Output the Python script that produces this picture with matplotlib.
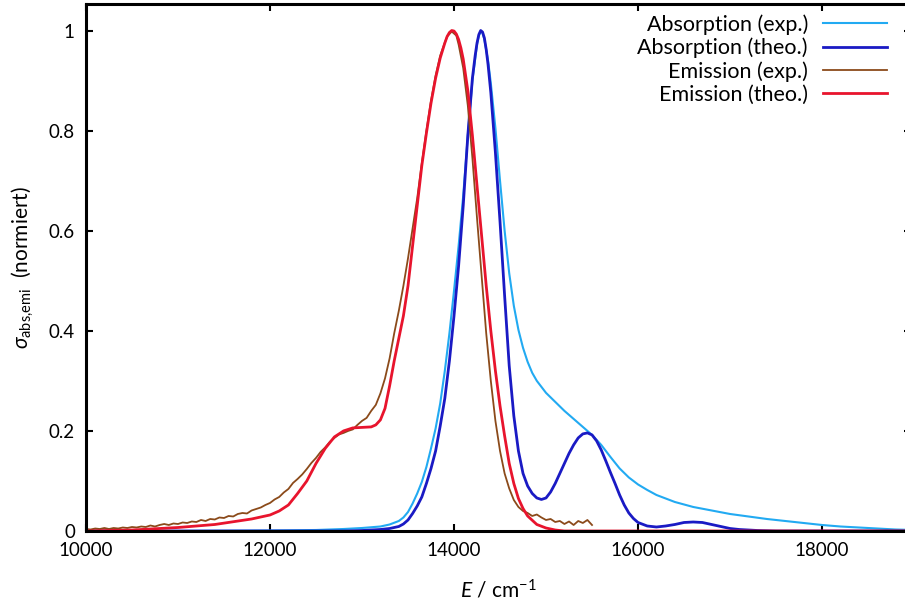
import matplotlib
matplotlib.use("Agg")
import matplotlib.pyplot as plt

plt.rcParams['font.family'] = ['Lato', 'DejaVu Sans']
plt.rcParams['mathtext.fontset'] = 'custom'
plt.rcParams['mathtext.rm'] = 'Lato'
plt.rcParams['mathtext.it'] = 'Lato:italic'

# Absorption (exp.)
abs_exp_x = [10000, 11000, 12000, 12500, 12800, 13000, 13200, 13300, 13400, 13450, 13500,
             13550, 13600, 13650, 13700, 13750, 13800, 13850, 13900, 13950, 14000, 14050,
             14100, 14150, 14200, 14250, 14270, 14290, 14310, 14330, 14370, 14400, 14450,
             14500, 14550, 14600, 14650, 14700, 14750, 14800, 14850, 14900, 15000, 15100,
             15200, 15300, 15400, 15500, 15600, 15700, 15800, 15900, 16000, 16100, 16200,
             16400, 16600, 16800, 17000, 17200, 17400, 17600, 17800, 18000, 18200, 18400,
             18600, 18800, 19000]
abs_exp_y = [0.0, 0.0, 0.001, 0.002, 0.004, 0.006, 0.009, 0.013, 0.020, 0.027, 0.038,
             0.055, 0.075, 0.098, 0.128, 0.165, 0.205, 0.255, 0.320, 0.395, 0.480, 0.570,
             0.670, 0.790, 0.900, 0.972, 0.990, 0.998, 0.995, 0.982, 0.940, 0.895, 0.805,
             0.700, 0.600, 0.515, 0.450, 0.402, 0.366, 0.338, 0.316, 0.300, 0.276, 0.258,
             0.240, 0.224, 0.208, 0.192, 0.172, 0.148, 0.125, 0.107, 0.093, 0.082, 0.072,
             0.058, 0.048, 0.041, 0.034, 0.029, 0.024, 0.020, 0.016, 0.012, 0.009, 0.007,
             0.005, 0.003, 0.002]

# Absorption (theo.)
abs_theo_x = [10000, 12800, 13000, 13200, 13300, 13400, 13450, 13500, 13550, 13600, 13650,
              13700, 13750, 13800, 13850, 13900, 13950, 14000, 14050, 14100, 14150, 14200,
              14230, 14250, 14270, 14290, 14310, 14330, 14350, 14370, 14400, 14450, 14500,
              14550, 14600, 14650, 14700, 14750, 14800, 14850, 14900, 14950, 15000, 15050,
              15100, 15150, 15200, 15250, 15300, 15350, 15400, 15450, 15500, 15550, 15600,
              15650, 15700, 15750, 15800, 15850, 15900, 15950, 16000, 16100, 16200, 16300,
              16400, 16500, 16600, 16700, 16800, 16900, 17000, 17100, 17300, 17500, 19000]
abs_theo_y = [0.0, 0.0, 0.001, 0.003, 0.005, 0.009, 0.014, 0.022, 0.035, 0.050, 0.068,
              0.095, 0.125, 0.160, 0.210, 0.265, 0.340, 0.430, 0.530, 0.650, 0.790, 0.905,
              0.950, 0.975, 0.992, 1.000, 0.997, 0.985, 0.962, 0.932, 0.876, 0.756, 0.618,
              0.470, 0.330, 0.230, 0.160, 0.115, 0.090, 0.075, 0.066, 0.063, 0.066, 0.078,
              0.095, 0.115, 0.135, 0.155, 0.172, 0.186, 0.194, 0.196, 0.192, 0.180, 0.162,
              0.140, 0.117, 0.095, 0.072, 0.052, 0.036, 0.025, 0.017, 0.010, 0.008, 0.010,
              0.013, 0.017, 0.018, 0.017, 0.013, 0.009, 0.005, 0.003, 0.001, 0.0, 0.0]

# Emission (exp.)
em_exp_x = [10000, 10050, 10100, 10150, 10200, 10250, 10300, 10350, 10400, 10450, 10500,
            10550, 10600, 10650, 10700, 10750, 10800, 10850, 10900, 10950, 11000, 11050,
            11100, 11150, 11200, 11250, 11300, 11350, 11400, 11450, 11500, 11550, 11600,
            11650, 11700, 11750, 11800, 11850, 11900, 11950, 12000, 12050, 12100, 12150,
            12200, 12250, 12300, 12350, 12400, 12450, 12500, 12550, 12600, 12650, 12700,
            12750, 12800, 12850, 12900, 12950, 13000, 13050, 13100, 13150, 13200, 13250,
            13300, 13350, 13400, 13450, 13500, 13550, 13600, 13650, 13700, 13750, 13800,
            13850, 13900, 13925, 13950, 13975, 14000, 14025, 14050, 14100, 14150, 14200,
            14250, 14300, 14350, 14400, 14450, 14500, 14550, 14600, 14650, 14700, 14750,
            14800, 14850, 14900, 14950, 15000, 15050, 15100, 15150, 15200, 15250, 15300,
            15350, 15400, 15450, 15500]
em_exp_y = [0.004, 0.003, 0.005, 0.004, 0.006, 0.004, 0.006, 0.005, 0.007, 0.006, 0.008,
            0.007, 0.009, 0.008, 0.011, 0.009, 0.012, 0.014, 0.012, 0.015, 0.014, 0.017,
            0.016, 0.019, 0.018, 0.022, 0.020, 0.024, 0.023, 0.027, 0.026, 0.030, 0.029,
            0.034, 0.036, 0.035, 0.041, 0.044, 0.047, 0.052, 0.056, 0.063, 0.068, 0.077,
            0.084, 0.096, 0.104, 0.113, 0.124, 0.136, 0.146, 0.158, 0.167, 0.178, 0.186,
            0.193, 0.196, 0.200, 0.203, 0.212, 0.220, 0.226, 0.240, 0.252, 0.275, 0.305,
            0.345, 0.395, 0.440, 0.490, 0.545, 0.605, 0.665, 0.735, 0.800, 0.860, 0.910,
            0.950, 0.976, 0.988, 0.993, 0.998, 0.994, 0.990, 0.972, 0.925, 0.850, 0.745,
            0.625, 0.510, 0.395, 0.300, 0.220, 0.160, 0.115, 0.085, 0.062, 0.048, 0.040,
            0.036, 0.030, 0.033, 0.027, 0.022, 0.024, 0.018, 0.020, 0.014, 0.019, 0.012,
            0.020, 0.016, 0.022, 0.012]

# Emission (theo.)
em_theo_x = [10000, 10500, 11000, 11400, 11800, 12000, 12100, 12200, 12300, 12400, 12500,
             12600, 12700, 12800, 12900, 13000, 13100, 13150, 13200, 13250, 13300, 13350,
             13400, 13450, 13500, 13550, 13600, 13650, 13700, 13750, 13800, 13850, 13900,
             13925, 13950, 13975, 14000, 14025, 14050, 14075, 14100, 14150, 14200, 14250,
             14300, 14350, 14400, 14450, 14500, 14550, 14600, 14650, 14700, 14750, 14800,
             14900, 15000, 15100, 15200, 19000]
em_theo_y = [0.0, 0.002, 0.007, 0.013, 0.024, 0.032, 0.040, 0.052, 0.075, 0.100, 0.135,
             0.165, 0.188, 0.200, 0.206, 0.207, 0.208, 0.212, 0.222, 0.245, 0.290, 0.340,
             0.385, 0.430, 0.490, 0.570, 0.650, 0.730, 0.795, 0.855, 0.905, 0.945, 0.975,
             0.988, 0.996, 1.000, 0.999, 0.993, 0.982, 0.965, 0.943, 0.880, 0.790, 0.690,
             0.590, 0.490, 0.400, 0.320, 0.250, 0.190, 0.135, 0.095, 0.065, 0.045, 0.030,
             0.013, 0.006, 0.002, 0.0, 0.0]

x_ticks = [10000, 12000, 14000, 16000, 18000]
y_ticks = [0, 0.2, 0.4, 0.6, 0.8, 1.0]
y_tick_labels = ["0", "0.2", "0.4", "0.6", "0.8", "1"]

fig = plt.figure(figsize=(9.05, 6.08), dpi=100)
ax = fig.add_axes([86 / 905, 77 / 608, 825 / 905, 527 / 608])

ax.plot(abs_exp_x, abs_exp_y, color='#22aaf2', lw=1.5, label='Absorption (exp.)')
ax.plot(abs_theo_x, abs_theo_y, color='#1a1ac4', lw=2.0, label='Absorption (theo.)')
ax.plot(em_exp_x, em_exp_y, color='#8b4a1a', lw=1.3, label='Emission (exp.)')
ax.plot(em_theo_x, em_theo_y, color='#e8142d', lw=2.0, label='Emission (theo.)')

ax.set_xlim(10000, 18967)
ax.set_ylim(0, 1.053)
ax.set_xticks(x_ticks)
ax.set_yticks(y_ticks)
ax.set_yticklabels(y_tick_labels)
ax.tick_params(direction='in', length=5, width=1.5, labelsize=13.5, top=True, right=True, pad=8)
for sp in ax.spines.values():
    sp.set_linewidth(2.2)

ax.set_xlabel(r'$E$ / cm$^{-1}$', fontsize=15, labelpad=14)
ax.set_ylabel(r'$\sigma_{\mathrm{abs{,}emi}}$  (normiert)', fontsize=15, labelpad=9)

ax.legend(loc='upper right', bbox_to_anchor=(887 / 905, 1 - 14 / 608),
          bbox_transform=fig.transFigure, frameon=False, markerfirst=False,
          fontsize=15.5, handlelength=2.95, handletextpad=0.72, labelspacing=0.14,
          borderpad=0, borderaxespad=0)

fig.savefig('out.png', dpi=100)
